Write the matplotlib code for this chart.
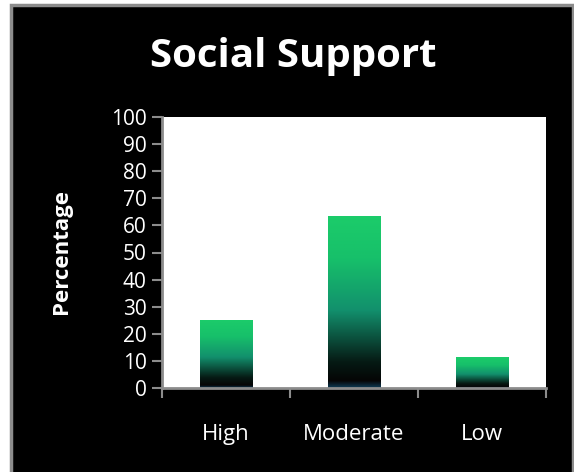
import numpy as np
import matplotlib.pyplot as plt
from matplotlib.patches import Rectangle
from matplotlib.colors import LinearSegmentedColormap

# data
categories = ['High', 'Moderate', 'Low']
values = [25.2, 63.5, 11.4]
yticks = list(range(0, 101, 10))

W, H = 574, 472
fig = plt.figure(figsize=(W / 100, H / 100), dpi=100)
fig.patch.set_facecolor('white')

# black chart frame with grey border
frame = Rectangle((11 / W, -0.01), (W - 12) / W, (H - 5) / H + 0.01, transform=fig.transFigure,
                  facecolor='black', edgecolor='#8c8c8c', linewidth=2.5, zorder=-5)
fig.patches.append(frame)

ax = fig.add_axes([162 / W, 1 - 388 / H, 384 / W, 271 / H])
ax.set_zorder(2)
ax.set_facecolor('white')

# gradient: green at top, teal, black, dark blue at the very bottom
cmap = LinearSegmentedColormap.from_list('bar', [
    (0.0, '#0d3a55'), (0.04, '#050505'), (0.15, '#061a14'),
    (0.45, '#12906d'), (0.75, '#17c06a'), (1.0, '#1ccc6a')])
grad = np.linspace(0, 1, 256).reshape(-1, 1)

x = np.arange(len(categories))
bars = ax.bar(x, values, width=0.41, color='none', edgecolor='none')
for b in bars:
    x0, y0 = b.get_x(), b.get_y()
    w, h = b.get_width(), b.get_height()
    im = ax.imshow(grad, cmap=cmap, origin='lower', aspect='auto',
                   extent=[x0, x0 + w, y0, y0 + h], zorder=2)
    im.set_clip_path(b)

ax.set_xlim(-0.5, len(categories) - 0.5)
ax.set_ylim(0, 100)
ax.set_yticks(yticks)
ax.set_xticks(x)
ax.set_xticklabels(categories)
ax.set_xticks(np.arange(len(categories) + 1) - 0.5, minor=True)
ax.tick_params(axis='x', which='major', length=0, pad=26, colors='white', labelsize=16)
ax.tick_params(axis='x', which='minor', length=7, width=1.5, color='#8c8c8c', direction='out')
ax.tick_params(axis='y', length=7, width=1.5, color='#8c8c8c', direction='out',
               labelcolor='white', labelsize=15, pad=4)
for lab in ax.get_xticklabels() + ax.get_yticklabels():
    lab.set_fontfamily('Open Sans')

for s in ['top', 'right']:
    ax.spines[s].set_visible(False)
for s in ['left', 'bottom']:
    ax.spines[s].set_color('#8c8c8c')
    ax.spines[s].set_linewidth(2)

fig.text(293 / W, 1 - 57 / H, 'Social Support', color='white', fontsize=29,
         fontweight='bold', ha='center', va='center', family='Open Sans')
fig.text(62 / W, 1 - 252 / H, 'Percentage', color='white', fontsize=16,
         fontweight='bold', ha='center', va='center', rotation=90, family='Open Sans')

fig.savefig('out.png', dpi=100, facecolor=fig.get_facecolor())
